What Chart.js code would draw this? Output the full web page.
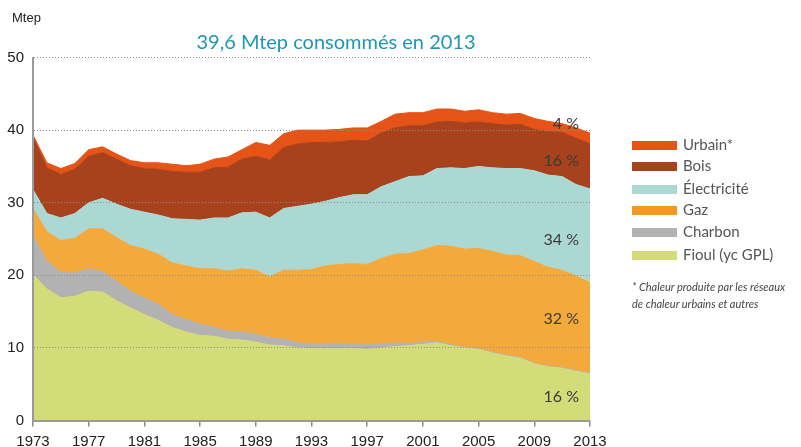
<!DOCTYPE html>
<html><head><meta charset="utf-8">
<script src="https://cdn.jsdelivr.net/npm/chart.js@4.4.1/dist/chart.umd.min.js"></script>
<style>
html,body{margin:0;padding:0;background:#fff;}
#wrap{position:relative;width:801px;height:447px;overflow:hidden;}
canvas{position:absolute;left:0;top:0;}
.t{position:absolute;white-space:nowrap;}
.lg{position:absolute;left:632px;height:22px;}
.sw{position:absolute;left:0;width:45px;height:9px;}
.lt{position:absolute;left:51px;font:15px Lato,sans-serif;color:#555;white-space:nowrap;}
</style></head><body>
<div id="wrap">
<canvas id="c" width="801" height="447"></canvas>
<div class="t" style="left:12px;top:10px;font:13px 'Liberation Sans',Arial,sans-serif;color:#222;">Mtep</div>
<div class="t" style="left:0;width:672px;text-align:center;top:29px;font:20px Lato,sans-serif;color:#1e96b4">39,6 Mtep consommés en 2013</div>
<div id="legend"></div>
<div class="t" style="left:632px;top:278px;font:italic 11px Lato,sans-serif;color:#444;line-height:17px">* Chaleur produite par les réseaux<br>de chaleur urbains et autres</div>
</div>
<script>
const years = ['1973','1974','1975','1976','1977','1978','1979','1980','1981','1982','1983','1984','1985','1986','1987','1988','1989','1990','1991','1992','1993','1994','1995','1996','1997','1998','1999','2000','2001','2002','2003','2004','2005','2006','2007','2008','2009','2010','2011','2012','2013'];

const fioul = [20.1,18.1,16.9,17.1,17.8,17.7,16.5,15.5,14.6,13.8,12.8,12.2,11.7,11.6,11.2,11.1,10.8,10.4,10.3,10.0,9.9,9.9,9.9,9.9,9.8,10.0,10.2,10.3,10.5,10.7,10.3,10.0,9.8,9.3,8.9,8.6,7.8,7.4,7.2,6.8,6.4];
const charbon = [5.3,3.9,3.5,3.2,3.1,2.8,2.7,2.3,2.3,2.2,1.8,1.7,1.6,1.2,1.1,1.1,1.1,1.0,0.9,0.7,0.6,0.6,0.7,0.6,0.6,0.5,0.5,0.3,0.3,0.2,0.15,0.1,0.1,0.1,0.1,0.1,0.1,0.1,0.1,0.1,0.1];
const gaz = [3.8,4.0,4.4,4.8,5.5,5.9,6.0,6.3,6.7,6.9,7.1,7.4,7.6,8.1,8.3,8.7,8.8,8.4,9.5,10.0,10.3,10.8,10.9,11.1,11.1,11.8,12.2,12.4,12.7,13.2,13.55,13.5,13.8,13.9,13.8,14.0,14.0,13.6,13.4,13.0,12.5];
const electricite = [2.6,2.5,3.1,3.4,3.6,4.2,4.6,5.0,5.1,5.4,6.1,6.4,6.7,7.0,7.3,7.7,8.0,8.1,8.5,8.8,9.0,8.9,9.2,9.5,9.6,9.9,10.0,10.6,10.2,10.6,10.8,11.1,11.3,11.5,11.9,12.0,12.5,12.7,12.9,12.6,12.9];
const bois = [7.3,6.3,6.0,6.1,6.4,6.3,6.2,6.0,6.0,6.3,6.5,6.5,6.6,6.9,7.0,7.4,7.7,8.0,8.4,8.6,8.5,8.1,7.7,7.5,7.4,7.4,7.4,7.0,6.9,6.4,6.4,6.3,6.1,6.1,6.0,6.1,5.7,6.0,6.1,6.4,6.2];
const urbain = [0.2,0.7,0.8,0.8,0.9,0.8,0.7,0.7,0.8,0.9,1.0,0.9,1.1,1.2,1.4,1.3,1.9,2.0,1.9,1.9,1.7,1.7,1.7,1.7,1.8,1.6,1.9,1.8,1.8,1.8,1.7,1.6,1.7,1.5,1.5,1.5,1.5,1.4,1.2,1.4,1.5];

const seriesNames = ['Fioul (yc GPL)','Charbon','Gaz','Électricité','Bois','Urbain*'];
const seriesValues = [fioul, charbon, gaz, electricite, bois, urbain];
const areaColors = ['#d3dc78','#b2b2b2','#f4a93c','#acd8d3','#a8421c','#e65316'];
const swatchColors = ['#d3dc78','#b2b2b2','#f39a1e','#acd8d3','#a8421c','#e65316'];

const yTicks = [0,10,20,30,40,50];
const shareLabels = ['16 %','32 %','34 %','16 %','4 %'];
const shareAnchors = [3.3, 14.0, 24.9, 35.8, 40.9];

// HTML legend (top = Urbain)
const legend = document.getElementById('legend');
const legendTops = [250.5,228,206,184.5,162,140.5];
for (let i = seriesNames.length - 1; i >= 0; i--) {
  const row = document.createElement('div');
  row.className = 'lg';
  row.style.top = legendTops[i] + 'px';
  row.innerHTML = '<div class="sw" style="top:0;background:' + swatchColors[i] + '"></div>' +
    '<div class="lt" style="top:-6px">' + seriesNames[i] + '</div>';
  legend.appendChild(row);
}

const labelPlugin = {
  id: 'shares',
  afterDraw(chart) {
    const {ctx, chartArea, scales} = chart;
    ctx.save();
    ctx.font = '16px Lato, sans-serif';
    ctx.fillStyle = '#3a3a3a';
    ctx.textAlign = 'right';
    ctx.textBaseline = 'middle';
    shareLabels.forEach((t, i) => {
      ctx.fillText(t, chartArea.right - 11, scales.y.getPixelForValue(shareAnchors[i]));
    });
    ctx.restore();
  }
};

const datasets = seriesValues.map((vals, i) => ({
  label: seriesNames[i],
  data: vals,
  backgroundColor: areaColors[i],
  borderColor: areaColors[i],
  borderWidth: 1,
  pointRadius: 0,
  tension: 0,
  fill: i === 0 ? 'origin' : '-1'
}));

new Chart(document.getElementById('c'), {
  type: 'line',
  data: { labels: years, datasets },
  options: {
    responsive: false,
    animation: false,
    devicePixelRatio: 1,
    layout: { padding: { left: 0, right: 211, top: 57.5, bottom: 0 } },
    plugins: { legend: { display: false }, tooltip: { enabled: false }, title: { display: false } },
    elements: { line: { fill: true } },
    scales: {
      x: {
        type: 'category',
        offset: false,
        afterFit(s) { s.height = 26.5; },
        grid: {
          drawOnChartArea: false,
          drawTicks: true,
          tickLength: 6,
          lineWidth: 1.5,
          color: c => (c.index % 4 === 0 ? '#8a8a8a' : 'rgba(0,0,0,0)')
        },
        border: { display: true, color: '#9a9a9a', width: 2, z: 2 },
        ticks: {
          autoSkip: false, maxRotation: 0, minRotation: 0, padding: 6,
          color: '#222',
          font: { family: "'Liberation Sans', Arial, sans-serif", size: 15 },
          callback: function (v, i) { return i % 4 === 0 ? this.getLabelForValue(v) : ''; }
        }
      },
      y: {
        stacked: true,
        min: 0, max: 50,
        afterFit(s) { s.width = 33; },
        afterBuildTicks(s) { s.ticks = yTicks.map(v => ({ value: v })); },
        grid: { drawTicks: false, color: '#8f8f8f', lineWidth: 1, z: 1 },
        border: { display: true, color: '#9a9a9a', width: 2, dash: [1, 2], z: 2 },
        ticks: {
          padding: 9, color: '#222',
          font: { family: "'Liberation Sans', Arial, sans-serif", size: 15 }
        }
      }
    }
  },
  plugins: [labelPlugin]
});
</script>
</body></html>
